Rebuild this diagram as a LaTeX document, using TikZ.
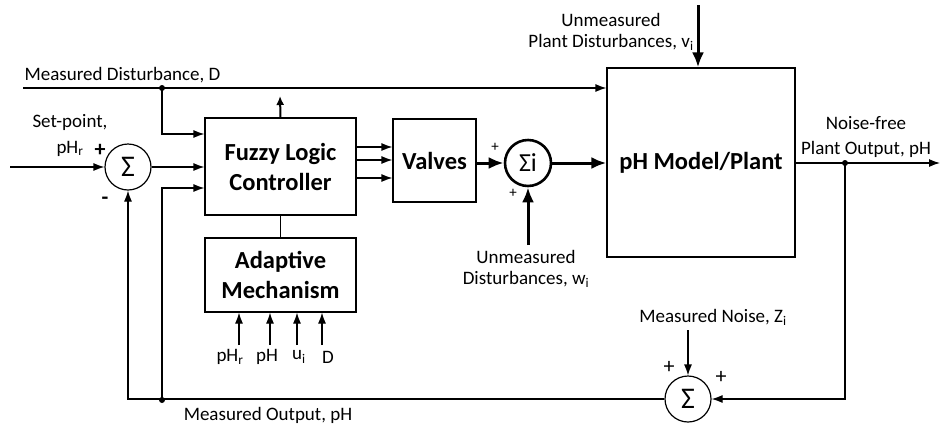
\documentclass[tikz,border=0pt]{standalone}
\usepackage{fontspec}
\setmainfont{Carlito}
\usetikzlibrary{arrows.meta}
\begin{document}
\begin{tikzpicture}[x=1pt, y=-1pt, >={Latex[length=11pt,width=8pt]}, line width=1.2pt,
		every node/.style={font=\fontsize{19}{21}\selectfont, inner sep=1pt},
		blok/.style={draw, rectangle, font=\fontsize{24.5}{30}\selectfont\bfseries, align=center},
		som/.style={draw, circle, minimum size=46pt, inner sep=0pt, font=\fontsize{30}{30}\selectfont},
		teken/.style={font=\fontsize{22}{22}\selectfont\bfseries},
		dik/.style={line width=3pt, -{Latex[length=15pt,width=12pt]}}]
	\useasboundingbox (0,0) rectangle (944,424);
	% blocks
	\node[som] (sumA) at (128,167) {Σ};
	\node[blok, minimum width=151pt, minimum height=97pt] (flc) at (280.5,166.5) {Fuzzy Logic\\Controller};
	\node[blok, minimum width=151pt, minimum height=74pt] (adm) at (280.5,275) {Adaptive\\Mechanism};
	\node[blok, minimum width=83pt, minimum height=83pt] (valves) at (434.5,160.5) {Valves};
	\node[som, line width=2.6pt, font=\fontsize{26}{26}\selectfont] (sumi) at (528,163) {Σi};
	\node[blok, minimum width=188pt, minimum height=189pt] (plant) at (701,162.5) {pH Model/Plant};
	\node[som] (sumB) at (688,399) {Σ};
	% free ends and junctions
	\coordinate (spIn) at (10,167);
	\coordinate (mdIn) at (23,88);
	\coordinate (dD) at (162,88);
	\coordinate (bB) at (162,400);
	\coordinate (flcOut) at (280,96);
	\coordinate (wIn) at (528,245);
	\coordinate (vIn) at (698,5);
	\coordinate (pHout) at (940,163);
	\coordinate (dP) at (845,163);
	\coordinate (zIn) at (688,330);
	% labels
	\node[anchor=west] (mdLab) at (23,75) {Measured Disturbance, D};
	\node[align=center, font=\fontsize{19}{26}\selectfont] (spLab) at (70,135) {Set-point,\\pH\textsubscript{r}};
	\node[teken] (plA) at (100,150) {+};
	\node[teken] (mnA) at (105,201) {-};
	\node[align=center] (vLab) at (611,32) {Unmeasured\\Plant Disturbances, v\textsubscript{i}};
	\node[align=center] (wLab) at (526,269) {Unmeasured\\Disturbances, w\textsubscript{i}};
	\node[font=\fontsize{15}{15}\selectfont] (plI1) at (495,147) {+};
	\node[font=\fontsize{15}{15}\selectfont] (plI2) at (513,193) {+};
	\node[align=center, font=\fontsize{19}{25}\selectfont] (nfLab) at (866,137) {Noise-free\\Plant Output, pH};
	\node (zLab) at (713,317) {Measured Noise, Z\textsubscript{i}};
	\node[font=\fontsize{22}{22}\selectfont] (plB1) at (669,367) {+};
	\node[font=\fontsize{22}{22}\selectfont] (plB2) at (721,377) {+};
	\node (moLab) at (268,415) {Measured Output, pH};
	% connectors
	\draw[->] (spIn) -- (sumA.west);
	\draw[->] (sumA.east) -- (flc.west |- sumA.east);
	\draw[->] (mdIn) -- (plant.west |- mdIn);
	\draw[->] (dD) |- ([yshift=32.5pt]flc.west);
	\draw[->] (bB) |- ([yshift=-21.5pt]flc.west);
	\draw[->] (sumB.west) -| (sumA.south);
	\draw[-{Latex[length=9pt,width=8pt]}, line width=2pt] (flc.north) -- (flcOut);
	\draw (flc.south) -- (adm.north);
	\foreach \y in {147,160,178}
		\draw[->] (flc.east |- 0,\y) -- (valves.west |- 0,\y);
	\draw[dik] (valves.east |- sumi.west) -- (sumi.west);
	\draw[dik] (sumi.east) -- (plant.west |- sumi.east);
	\draw[dik] (wIn) -- (sumi.south);
	\draw[dik] (vIn) -- (plant.north -| vIn);
	\draw[->] (plant.east |- pHout) -- (pHout);
	\draw[->] (dP) |- (sumB.east);
	\draw[->] (zIn) -- (sumB.north);
	\foreach \x/\lx/\lab in {239/230/pH\textsubscript{r}, 270/267/pH, 297/299/u\textsubscript{i}, 322/328/D} {
		\node (in\x) at (\lx,357) {\lab};
		\draw[->] (\x,345) -- (adm.south -| \x,0);
	}
	\fill (dD) circle (3pt) (bB) circle (3pt) (dP) circle (3pt);
\end{tikzpicture}
\end{document}
